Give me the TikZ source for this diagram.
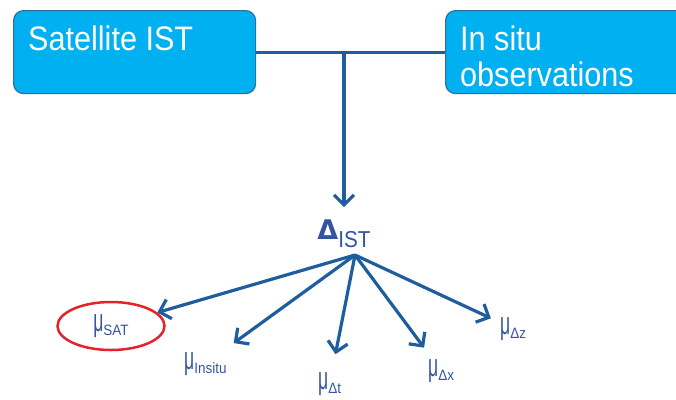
\documentclass[tikz,border=0pt]{standalone}
\usepackage{fontspec}
\setmainfont{Liberation Sans}
\newfontfamily\narrowfont[FakeStretch=0.9]{Liberation Sans}
\newfontfamily\deltafont{DejaVu Sans}
\usepackage{tikz}
\usetikzlibrary{arrows.meta}
\usetikzlibrary{shapes.geometric}
\usepackage{xcolor}

\definecolor{boxfill}{HTML}{00B0F0}
\definecolor{boxline}{HTML}{2B6EA8}
\definecolor{arrowblue}{HTML}{1F5E9E}
\definecolor{labelblue}{HTML}{34549F}
\definecolor{ringred}{HTML}{E3232B}

\newcommand{\mulabel}[1]{\scalebox{0.55}[1]{\fontsize{32}{32}\selectfont μ}\raisebox{-4pt}{\narrowfont\fontsize{15}{15}\selectfont #1}}

\tikzset{
  obsbox/.style={draw=boxline, fill=boxfill, line width=1.2pt, rounded corners=10pt,
    anchor=north west, inner sep=0pt},
  obstext/.style={text=white, font=\narrowfont\fontsize{34}{36}\selectfont, inner sep=0pt, align=left},
  link/.style={draw=arrowblue, line width=3.2pt},
  fan/.style={link, -{Straight Barb[length=10pt,width=20pt]}},
  mu/.style={text=labelblue, inner sep=0pt, anchor=base west},
}

\begin{document}
\begin{tikzpicture}[x=1pt, y=-1pt]
  \useasboundingbox (0,0) rectangle (676,399);
  \clip (0,0) rectangle (676,399);

  %sources
  \node[obsbox, minimum width=242pt, minimum height=83pt] (sat) at (13,10) {};
  \node[obstext, anchor=base west] (sattxt) at (28,50) {Satellite IST};
  \node[obsbox, minimum width=250pt, minimum height=83pt] (insitu) at (445,10) {};
  \node[obstext, anchor=north west] (insitutxt) at (460,26) {In situ\\observations};

  %difference
  \node[text=labelblue, inner sep=0pt, anchor=base] (delta) at (344,239)
    {{\deltafont\bfseries\fontsize{27}{27}\selectfont Δ}\raisebox{-8pt}{\narrowfont\fontsize{23}{23}\selectfont IST}};
  \coordinate (junc) at (delta |- sat.east);
  \coordinate (hub) at (355,255);

  \draw[link] (sat.east) -- (insitu.west);
  \draw[fan, shorten >=12pt] (junc) -- (delta);

  %error terms
  \node[ellipse, draw=ringred, line width=2.5pt, minimum width=107pt, minimum height=48pt,
    inner sep=0pt, text=labelblue] (musat) at (111,326) {\mulabel{SAT}};
  \node[mu] (muinsitu) at (184,369) {\mulabel{Insitu}};
  \node[mu] (mudt) at (318,389) {\mulabel{Δt}};
  \node[mu] (mudx) at (428,376) {\mulabel{Δx}};
  \node[mu] (mudz) at (500,334) {\mulabel{Δz}};

  \draw[fan] (hub) -- (musat);
  \draw[fan, shorten >=15pt] (hub) -- (muinsitu);
  \draw[fan, shorten >=18pt] (hub) -- (mudt);
  \draw[fan, shorten >=14pt] (hub) -- (mudx);
  \draw[fan, shorten >=10pt] (hub) -- (mudz);
\end{tikzpicture}
\end{document}
